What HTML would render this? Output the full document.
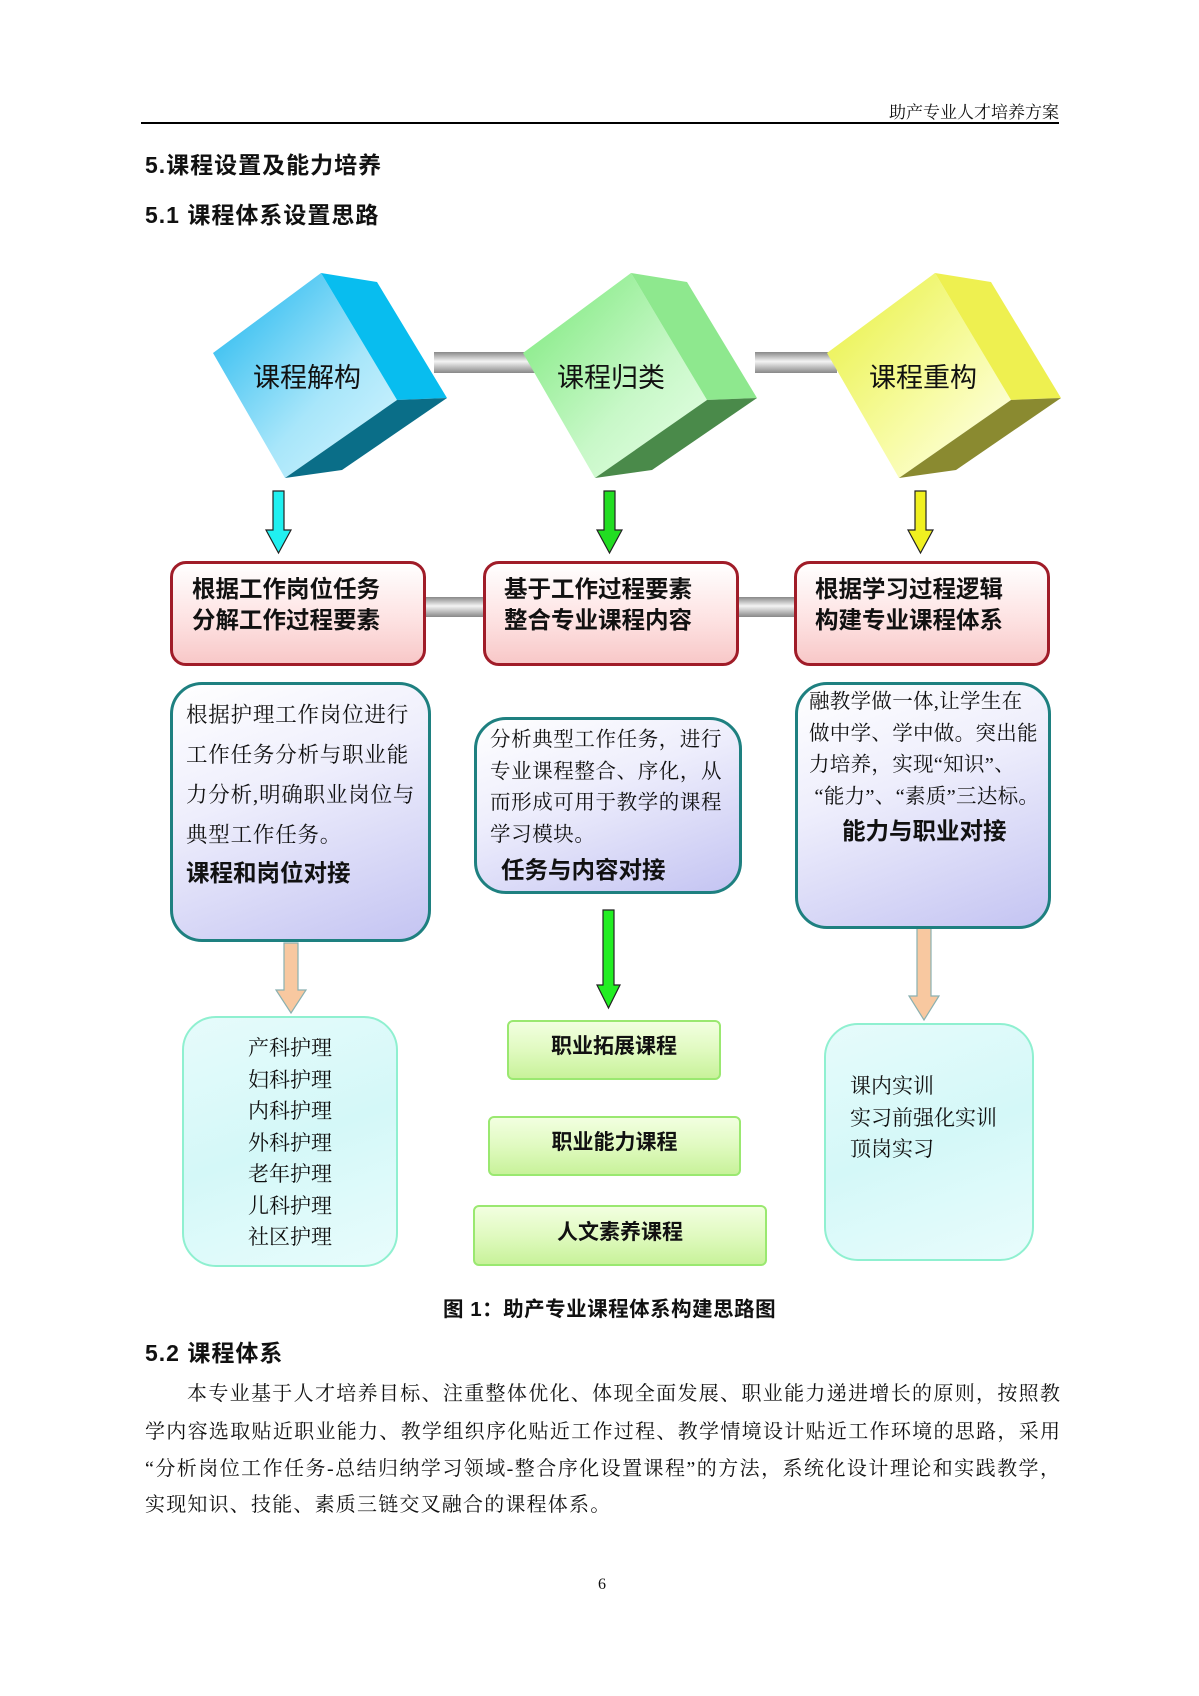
<!DOCTYPE html>
<html><head><meta charset="utf-8">
<style>
body{margin:0;background:#fff;}
#p{position:relative;width:1199px;height:1696px;overflow:hidden;background:#fff;font-family:"Liberation Serif","Noto Serif CJK SC",serif;color:#111;}
.a{position:absolute;white-space:nowrap;}
.h{font-family:"Liberation Sans","Noto Sans CJK SC",sans-serif;font-weight:bold;}
.s{font-family:"Liberation Serif","Noto Serif CJK SC",serif;}
.red{position:absolute;border:3px solid #a01c28;border-radius:16px;background:linear-gradient(180deg,#fff 0%,#fde0e0 60%,#f8c8c8 100%);box-sizing:border-box;}
.blue{position:absolute;border:3.5px solid #1e8080;border-radius:32px;background:linear-gradient(160deg,#fff 0%,#eeeefc 40%,#c4c4f2 100%);box-sizing:border-box;}
.cy{position:absolute;border:2.5px solid #8ff0d0;border-radius:34px;background:linear-gradient(160deg,#e6fbfb 0%,#d4f8f8 50%,#e8fcfc 100%);box-sizing:border-box;}
.gr{position:absolute;border:2px solid #9ae870;border-radius:6px;background:linear-gradient(180deg,#f2ffe0 0%,#e0fac0 50%,#c8f29a 100%);box-sizing:border-box;text-align:center;font-family:"Liberation Sans","Noto Sans CJK SC",sans-serif;font-weight:bold;font-size:21px;}
.pl{position:absolute;left:145px;width:915px;font-size:20px;text-align:justify;text-align-last:justify;white-space:nowrap;}
</style></head><body><div id="p">
<div class="a s" style="right:140px;top:98px;font-size:17px;">助产专业人才培养方案</div>
<div class="a" style="left:141px;top:122px;width:918px;height:1.5px;background:#000;"></div>
<div class="a h" style="left:145px;top:146px;font-size:23px;letter-spacing:1px;">5.课程设置及能力培养</div>
<div class="a h" style="left:145px;top:196px;font-size:23px;letter-spacing:1px;">5.1 课程体系设置思路</div>

<svg class="a" style="left:0;top:0" width="1199" height="1696">
<defs>
<linearGradient id="bar" x1="0" y1="0" x2="0" y2="1"><stop offset="0" stop-color="#888"/><stop offset="0.45" stop-color="#f4f4f4"/><stop offset="1" stop-color="#888"/></linearGradient>
<linearGradient id="c1" x1="0" y1="0" x2="1" y2="1"><stop offset="0" stop-color="#18b4ee"/><stop offset="0.6" stop-color="#a8e6fa"/><stop offset="1" stop-color="#d8f6ff"/></linearGradient>
<linearGradient id="c2" x1="0" y1="0" x2="1" y2="1"><stop offset="0" stop-color="#78e878"/><stop offset="0.6" stop-color="#c8f8c8"/><stop offset="1" stop-color="#e8ffe8"/></linearGradient>
<linearGradient id="c3" x1="0" y1="0" x2="1" y2="1"><stop offset="0" stop-color="#e8f040"/><stop offset="0.6" stop-color="#f8fca8"/><stop offset="1" stop-color="#fffff0"/></linearGradient>
</defs>
<rect x="434" y="352" width="110" height="21" fill="url(#bar)"/>
<rect x="755" y="352" width="82" height="21" fill="url(#bar)"/>
<rect x="425" y="597" width="62" height="20" fill="url(#bar)"/>
<rect x="736" y="597" width="62" height="20" fill="url(#bar)"/>
<g transform="translate(213,273)">
<polygon points="0,80 108,0 184,127 72,205" fill="url(#c1)"/>
<polygon points="108,0 164,9 234,125 184,127" fill="#08bdef"/>
<polygon points="184,127 234,125 129,197 72,205" fill="#0a6e88"/>
</g>
<g transform="translate(523,273)">
<polygon points="0,80 108,0 184,127 72,205" fill="url(#c2)"/>
<polygon points="108,0 164,9 234,125 184,127" fill="#8ee88e"/>
<polygon points="184,127 234,125 129,197 72,205" fill="#4a8a4a"/>
</g>
<g transform="translate(827,273)">
<polygon points="0,80 108,0 184,127 72,205" fill="url(#c3)"/>
<polygon points="108,0 164,9 234,125 184,127" fill="#eef050"/>
<polygon points="184,127 234,125 129,197 72,205" fill="#8a8a30"/>
</g>
<g stroke="#222" stroke-width="1.2">
<polygon points="273,491 284,491 284,530 291,530 278.5,553 266,530 273,530" fill="#20f0f0"/>
<polygon points="604,491 615,491 615,530 622,530 609.5,553 597,530 604,530" fill="#22dd22"/>
<polygon points="915,491 926,491 926,530 933,530 920.5,553 908,530 915,530" fill="#f0f020"/>
<polygon points="603,910 614,910 614,985 620,985 608.5,1008 597,985 603,985" fill="#22ee22"/>
</g>
<g stroke="#8ab0b0" stroke-width="1.2" fill="#f8c8a0">
<polygon points="284,943 298,943 298,990 306,990 291,1013 276,990 284,990"/>
<polygon points="917,928 931,928 931,996 939,996 924,1020 909,996 917,996"/>
</g>
</svg>
<div class="a h" style="left:253px;top:356px;font-size:27px;font-weight:normal;">课程解构</div>
<div class="a h" style="left:557px;top:356px;font-size:27px;font-weight:normal;">课程归类</div>
<div class="a h" style="left:869px;top:356px;font-size:27px;font-weight:normal;">课程重构</div>

<div class="red" style="left:170px;top:561px;width:256px;height:105px;"></div>
<div class="red" style="left:483px;top:561px;width:256px;height:105px;"></div>
<div class="red" style="left:794px;top:561px;width:256px;height:105px;"></div>
<div class="a h" style="left:192px;top:574px;font-size:23.5px;line-height:31px;">根据工作岗位任务<br>分解工作过程要素</div>
<div class="a h" style="left:504px;top:574px;font-size:23.5px;line-height:31px;">基于工作过程要素<br>整合专业课程内容</div>
<div class="a h" style="left:815px;top:574px;font-size:23.5px;line-height:31px;">根据学习过程逻辑<br>构建专业课程体系</div>

<div class="blue" style="left:170px;top:682px;width:261px;height:260px;"></div>
<div class="blue" style="left:474px;top:717px;width:268px;height:177px;"></div>
<div class="blue" style="left:795px;top:682px;width:256px;height:247px;"></div>
<div class="a s" style="left:186px;top:695px;font-size:21.5px;line-height:40px;letter-spacing:0.8px;">根据护理工作岗位进行<br>工作任务分析与职业能<br>力分析,明确职业岗位与<br>典型工作任务。</div>
<div class="a h" style="left:186px;top:854px;font-size:23.5px;">课程和岗位对接</div>
<div class="a s" style="left:490px;top:725px;font-size:20.5px;line-height:31.5px;letter-spacing:0.6px;">分析典型工作任务，进行<br>专业课程整合、序化，从<br>而形成可用于教学的课程<br>学习模块。</div>
<div class="a h" style="left:501px;top:851px;font-size:23.5px;">任务与内容对接</div>
<div class="a s" style="left:809px;top:687px;font-size:20.5px;line-height:31.5px;letter-spacing:0.3px;">融教学做一体,让学生在<br>做中学、学中做。突出能<br>力培养，实现“知识”、<br>&nbsp;“能力”、“素质”三达标。</div>
<div class="a h" style="left:842px;top:812px;font-size:23.5px;">能力与职业对接</div>

<div class="cy" style="left:182px;top:1016px;width:216px;height:251px;"></div>
<div class="a s" style="left:248px;top:1033px;font-size:21px;line-height:31.5px;">产科护理<br>妇科护理<br>内科护理<br>外科护理<br>老年护理<br>儿科护理<br>社区护理</div>
<div class="cy" style="left:824px;top:1023px;width:210px;height:238px;"></div>
<div class="a s" style="left:850px;top:1071px;font-size:21px;line-height:31.5px;">课内实训<br>实习前强化实训<br>顶岗实习</div>

<div class="gr" style="left:507px;top:1020px;width:214px;height:60px;line-height:50px;">职业拓展课程</div>
<div class="gr" style="left:488px;top:1116px;width:253px;height:60px;line-height:50px;">职业能力课程</div>
<div class="gr" style="left:473px;top:1205px;width:294px;height:61px;line-height:52px;">人文素养课程</div>

<div class="a h" style="left:443px;top:1292px;font-size:20.5px;letter-spacing:0.5px;">图 1：助产专业课程体系构建思路图</div>
<div class="a h" style="left:145px;top:1334px;font-size:23px;letter-spacing:1px;">5.2 课程体系</div>
<div class="pl s" style="top:1377px;left:187px;width:873px;">本专业基于人才培养目标、注重整体优化、体现全面发展、职业能力递进增长的原则，按照教</div>
<div class="pl s" style="top:1415px;">学内容选取贴近职业能力、教学组织序化贴近工作过程、教学情境设计贴近工作环境的思路，采用</div>
<div class="pl s" style="top:1452px;">“分析岗位工作任务-总结归纳学习领域-整合序化设置课程”的方法，系统化设计理论和实践教学，</div>
<div class="a s" style="top:1488px;left:145px;font-size:20px;letter-spacing:1.2px;">实现知识、技能、素质三链交叉融合的课程体系。</div>
<div class="a s" style="left:598px;top:1576px;font-size:16px;">6</div>
</div></body></html>
